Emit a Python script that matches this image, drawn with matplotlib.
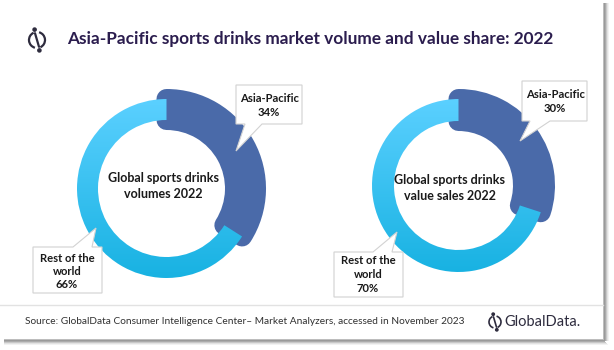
import numpy as np
import matplotlib
matplotlib.use("Agg")
import matplotlib.pyplot as plt
from matplotlib.patches import Wedge, Polygon, Circle, Arc, Rectangle
from matplotlib.lines import Line2D
from matplotlib.colors import LinearSegmentedColormap

# ---- data ----
regions = ["Asia-Pacific", "Rest of the world"]
volume_share = [34, 66]
value_share = [30, 70]
centre_titles = ["Global sports drinks\nvolumes 2022", "Global sports drinks\nvalue sales 2022"]
title = "Asia-Pacific sports drinks market volume and value share: 2022"
source = ("Source: GlobalData Consumer Intelligence Center\u2013 Market Analyzers, "
          "accessed in November 2023")

# ---- styling ----
W, H = 614, 350
PX = 72 / 100            # points per pixel at dpi 100
DARK = "#4a6aa9"
LIGHT_TOP = "#5bd0ff"
LIGHT_BOT = "#18b2e2"
NAVY = "#2b1d4e"
TXT = "#1a1a1a"
FONT = "Lato"

fig = plt.figure(figsize=(W / 100, H / 100), dpi=100)
ax = fig.add_axes([0, 0, 1, 1])
ax.axis("off")


def Y(y):
    return H - y


ring_cmap = LinearSegmentedColormap.from_list("ring", [LIGHT_TOP, LIGHT_BOT])


def donut(cx, cy, r_out, r_in, shares, centre_text, text_xy):
    ap = shares[0]
    a_end = 90 - 360 * ap / 100
    # Asia-Pacific arc: thick with rounded corners
    dark = Wedge((cx, Y(cy)), r_out, a_end, 90, width=r_out - r_in,
                 facecolor=DARK, edgecolor=DARK, linewidth=20 * PX,
                 joinstyle="round", zorder=2)
    ax.add_patch(dark)
    # rest of the world arc with vertical gradient
    ring = Wedge((cx, Y(cy)), r_out, 90, a_end + 360, width=r_out - r_in,
                 facecolor="none", edgecolor="none", zorder=3)
    ax.add_patch(ring)
    grad = np.linspace(0, 1, 256).reshape(-1, 1)
    im = ax.imshow(grad, cmap=ring_cmap, origin="upper", aspect="auto",
                   extent=(cx - r_out, cx + r_out, Y(cy) - r_out, Y(cy) + r_out),
                   zorder=3, interpolation="bilinear")
    im.set_clip_path(ring)
    ax.text(text_xy[0], Y(text_xy[1]), centre_text, ha="center", va="center",
            fontsize=9.0, fontweight="bold", color=TXT, family=FONT,
            linespacing=1.3, zorder=5)


def callout(box, base, tip, side, lines, text_xy, line_gap):
    x0, y0, x1, y1 = box
    b0, b1 = base
    tx, ty = tip
    if side == "bottom":
        pts = [(x0, y0), (x1, y0), (x1, y1), (b1, y1), (tx, ty), (b0, y1), (x0, y1)]
    else:
        pts = [(x0, y0), (b0, y0), (tx, ty), (b1, y0), (x1, y0), (x1, y1), (x0, y1)]
    pts = [(px, Y(py)) for px, py in pts]
    ax.add_patch(Polygon(pts, closed=True, facecolor="white", edgecolor="#d2d2d2",
                         linewidth=0.8, zorder=6))
    for i, ln in enumerate(lines):
        ax.text(text_xy[0], Y(text_xy[1] + i * line_gap), ln, ha="center", va="center",
                fontsize=8.1, fontweight="bold", color=TXT, family=FONT, zorder=7)


def logo_icon(cx, cy, s, lw, color):
    # broken ring with a slash and two dots
    c = (cx, Y(cy))
    ax.add_patch(Arc(c, 2 * s, 2 * s, theta1=115, theta2=255, color=color, lw=lw, zorder=8))
    ax.add_patch(Arc(c, 2 * s, 2 * s, theta1=-65, theta2=75, color=color, lw=lw, zorder=8))
    ax.add_line(Line2D([cx - 0.25 * s, cx + 0.25 * s], [Y(cy - 0.85 * s), Y(cy + 0.85 * s)],
                       color=color, lw=lw, zorder=8, solid_capstyle="round"))
    ax.add_patch(Circle((cx - 0.3 * s, Y(cy - 1.3 * s)), 0.2 * s, color=color, zorder=8))
    ax.add_patch(Circle((cx + 0.3 * s, Y(cy + 1.3 * s)), 0.2 * s, color=color, zorder=8))


# ---- card and shadow ----
shadow = ["#bdbdbd", "#9a9a9a", "#ababab", "#c8c8c8", "#e2e2e2", "#f2f2f2"]
for i, col in enumerate(shadow):
    ax.add_patch(Rectangle((603 + i, Y(341)), 1, 338, facecolor=col, edgecolor="none", zorder=0))
    ax.add_patch(Rectangle((4, Y(339 + i) - 1), 603 - 4 + i, 1, facecolor=col,
                           edgecolor="none", zorder=0))
ax.add_patch(Rectangle((0, Y(339)), 603, 339, facecolor="white", edgecolor="none", zorder=1))

# separator above the footer
ax.add_line(Line2D([0, 603], [Y(305), Y(305)], color="#e2e2e2", lw=1.0, zorder=2))

# ---- title ----
logo_icon(37, 40, 8, 1.6, "#2e2c3e")
ax.text(67, Y(39), title, ha="left", va="center", fontsize=12.45, fontweight="bold",
        color=NAVY, family=FONT, zorder=5)

# ---- donuts ----
donut(166.5, 188.5, 89.5, 68.5, volume_share, centre_titles[0], (163, 186))
donut(458.5, 185.5, 86.5, 64.5, value_share, centre_titles[1], (450, 188))

# ---- callouts ----
callout((236, 85, 302, 124), (245, 262), (236, 151), "bottom",
        [regions[0], f"{volume_share[0]}%"], (269, 98), 15)
callout((33, 247, 102, 293), (73, 92), (96, 228), "top",
        ["Rest of the", "world", f"{volume_share[1]}%"], (67, 258), 13.5)
callout((522, 81, 587, 121), (530, 550), (520, 141), "bottom",
        [regions[0], f"{value_share[0]}%"], (555, 94.5), 14)
callout((334, 252, 403, 297), (373, 392), (397, 232), "top",
        ["Rest of the", "world", f"{value_share[1]}%"], (368, 261), 13.5)

# ---- footer ----
ax.text(25, Y(322), source, ha="left", va="center", fontsize=7.3, color="#303030",
        family=FONT, zorder=5)
logo_icon(495, 322, 6, 1.2, "#2e2c3e")
ax.text(504, Y(322), "GlobalData.", ha="left", va="center", fontsize=10.5,
        color="#2e2c3e", family=FONT, zorder=5)

ax.set_xlim(0, W)
ax.set_ylim(0, H)
fig.savefig("out.png", dpi=100, facecolor="white")
